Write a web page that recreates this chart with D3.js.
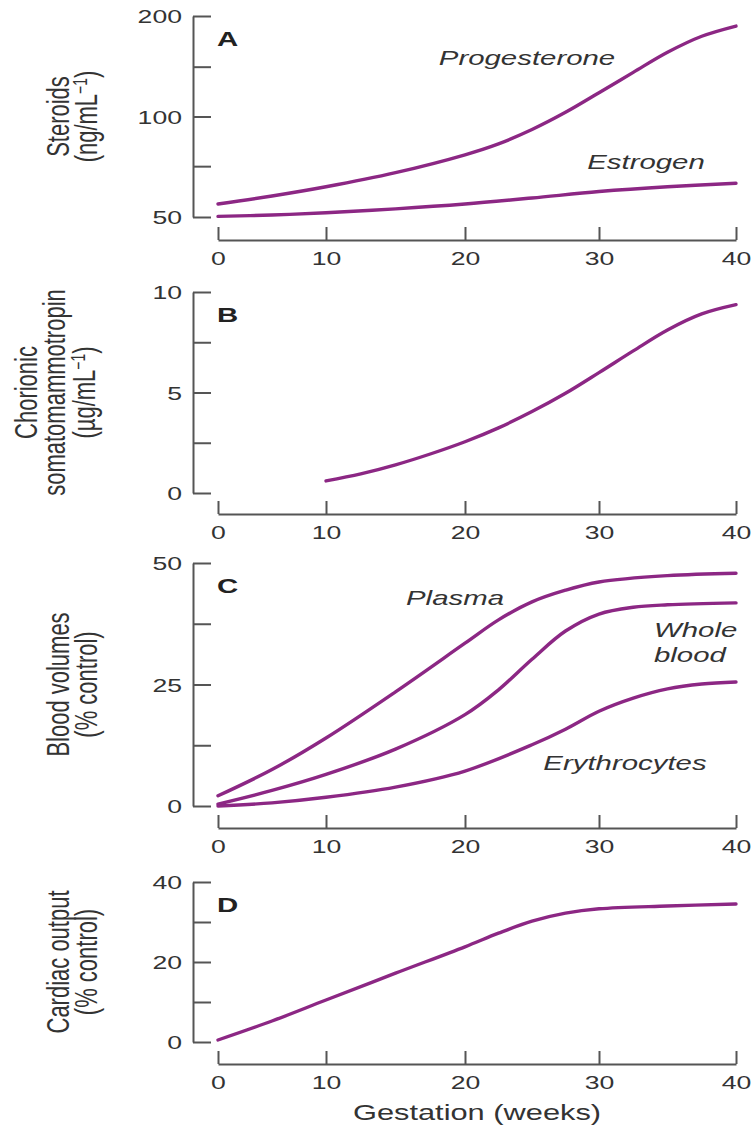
<!DOCTYPE html>
<html lang="en">
<head>
<meta charset="utf-8">
<title>Maternal changes during gestation</title>
<script src="https://cdn.jsdelivr.net/npm/d3@7"></script>
<style>
  body {margin: 0; background: #fff;}
  svg {display: block;}
  text {font-family: "Liberation Sans", Arial, sans-serif; fill: #333; stroke: none;}
  .axis path, .axis line {stroke: #555; stroke-width: 2; fill: none;}
  .axis text {font-size: 19px;}
  .ytitle {font-size: 22px;}
  .note {font-size: 21px; font-style: italic;}
  .letter {font-size: 21px; font-weight: bold; fill: #222;}
  .curve {fill: none; stroke: #8c2784; stroke-width: 3.4; stroke-linecap: round;}
</style>
</head>
<body>
<script>
// gestation axis (weeks)
var weekTicks = [0, 10, 20, 30, 40];

// A - steroids, ng/mL (log axis)
var steroidTicks = [50, 100, 200];
var steroidMinor = [71, 141];
var progWeeks = [0, 5, 10, 15, 20, 22.5, 25, 27.5, 30, 32.5, 35, 37.5, 40];
var progesterone = [54.7, 57.8, 61.6, 67.9, 76.8, 82.8, 91.4, 102.9, 117.8, 135.6, 155.7, 173.9, 186.6];
var estWeeks = [0, 5, 10, 15, 20, 25, 30, 35, 40];
var estrogen = [50.2, 50.7, 51.5, 52.9, 54.7, 57.0, 59.6, 61.6, 63.1];

// B - chorionic somatomammotropin, ug/mL
var csTicks = [0, 5, 10];
var csMinor = [2.5, 7.5];
var csWeeks = [10, 12.5, 15, 17.5, 20, 22.5, 25, 27.5, 30, 32.5, 35, 37.5, 40];
var somatomammotropin = [0.6, 0.95, 1.4, 1.94, 2.55, 3.24, 4.05, 4.96, 5.99, 7.07, 8.11, 8.91, 9.37];

// C - blood volumes, % of control
var bvTicks = [0, 25, 50];
var bvMinor = [12.5, 37.5];
var plasmaWeeks = [0, 5, 10, 15, 20, 22.5, 25, 27.5, 30, 35, 40];
var plasma = [2.1, 7.5, 14.0, 23.5, 33.5, 38.3, 42.0, 44.4, 46.1, 47.4, 47.9];
var wholeWeeks = [0, 5, 10, 15, 20, 22.5, 25, 27.5, 30, 32.5, 35, 40];
var wholeBlood = [0.4, 3.2, 6.5, 11.7, 18.8, 23.9, 30.2, 36.0, 39.5, 40.9, 41.4, 41.8];
var eryWeeks = [0, 5, 10, 15, 20, 25, 27.5, 30, 32.5, 35, 37.5, 40];
var erythrocytes = [0, 0.65, 1.8, 3.9, 7.2, 12.6, 15.8, 19.5, 22.2, 24.1, 25.1, 25.5];

// D - cardiac output, % of control
var coTicks = [0, 20, 40];
var coMinor = [10, 30];
var coWeeks = [0, 5, 10, 15, 20, 22.5, 25, 27.5, 30, 35, 40];
var cardiacOutput = [0.5, 5.25, 10.5, 17.2, 23.8, 27.2, 30.2, 32.2, 33.3, 34, 34.5];

var W = 754, H = 1128;
var axisX = 193;      // y axis line
var sx = 1.4;         // the lettering in the figure is set wide

var svg = d3.select("body").append("svg")
  .attr("width", W)
  .attr("height", H);

// the week axis of the figure is not evenly spaced
var x = d3.scaleLinear().domain(weekTicks).range([218, 326, 465, 599, 736]);

var line = function(y) {
  return d3.line()
    .x(function(d) { return x(d[0]); })
    .y(function(d) { return y(d[1]); })
    .curve(d3.curveCatmullRom.alpha(0.5));
};

function wide(tx, ty) {
  return "translate(" + tx + "," + ty + ") scale(" + sx + ",1)";
}

function panel(y, ticks, minor, axisY, letter) {
  var g = svg.append("g");

  var yAxis = d3.axisLeft(y)
    .tickValues(ticks.concat(minor))
    .tickSizeInner(-18)
    .tickSizeOuter(0)
    .tickFormat(function(d) { return ticks.indexOf(d) >= 0 ? d : ""; });

  g.append("g")
    .attr("class", "axis")
    .attr("transform", "translate(" + axisX + ",0)")
    .call(yAxis)
    .call(function(a) {
      a.attr("font-size", null).attr("font-family", null);
      a.selectAll("text")
        .attr("x", null)
        .attr("dy", "0.36em")
        .attr("transform", wide(-11, 0));
    });

  var xAxis = d3.axisBottom(x)
    .tickValues(weekTicks)
    .tickSizeInner(-13)
    .tickSizeOuter(0);

  g.append("g")
    .attr("class", "axis")
    .attr("transform", "translate(0," + axisY + ")")
    .call(xAxis)
    .call(function(a) {
      a.attr("font-size", null).attr("font-family", null);
      a.selectAll("text")
        .attr("y", null)
        .attr("dy", null)
        .attr("transform", wide(0, 25));
    });

  g.append("text")
    .attr("class", "letter")
    .attr("transform", wide(217, y.range()[1] + 29.5))
    .text(letter);

  return g;
}

function curve(g, y, weeks, values) {
  g.append("path")
    .attr("class", "curve")
    .attr("d", line(y)(d3.zip(weeks, values)));
}

// rotated axis title, one entry per column: [x, parts]
function ytitle(y, cols) {
  var cy = (y.range()[0] + y.range()[1]) / 2;
  cols.forEach(function(c) {
    var t = svg.append("text")
      .attr("class", "ytitle")
      .attr("text-anchor", "middle")
      .attr("dy", "0.36em")
      .attr("transform", "translate(" + c[0] + "," + cy + ") scale(" + sx + ",1) rotate(-90)");
    c[1].forEach(function(p) {
      var s = t.append("tspan").text(p[0]);
      if (p[1]) s.attr("font-size", 14).attr("baseline-shift", "super");
    });
  });
}

function note(g, txt, tx, ty, anchor) {
  g.append("text")
    .attr("class", "note")
    .attr("text-anchor", anchor || "middle")
    .attr("transform", wide(tx, ty))
    .text(txt);
}

// A
var yA = d3.scaleLog().domain([50, 200]).range([217, 16]);
var gA = panel(yA, steroidTicks, steroidMinor, 240, "A");
curve(gA, yA, progWeeks, progesterone);
curve(gA, yA, estWeeks, estrogen);
note(gA, "Progesterone", 527, 65);
note(gA, "Estrogen", 646, 169);
ytitle(yA, [[58, [["Steroids"]]], [86, [["(ng/mL"], ["\u22121", true], [")"]]]]);

// B
var yB = d3.scaleLinear().domain([0, 10]).range([493, 292]);
var gB = panel(yB, csTicks, csMinor, 514, "B");
curve(gB, yB, csWeeks, somatomammotropin);
ytitle(yB, [[26, [["Chorionic"]]], [54, [["somatomammotropin"]]], [84, [["(\u00b5g/mL"], ["\u22121", true], [")"]]]]);

// C
var yC = d3.scaleLinear().domain([0, 50]).range([806, 563]);
var gC = panel(yC, bvTicks, bvMinor, 828, "C");
curve(gC, yC, plasmaWeeks, plasma);
curve(gC, yC, wholeWeeks, wholeBlood);
curve(gC, yC, eryWeeks, erythrocytes);
note(gC, "Plasma", 455, 605);
note(gC, "Whole", 654, 637, "start");
note(gC, "blood", 654, 662, "start");
note(gC, "Erythrocytes", 625, 770);
ytitle(yC, [[58, [["Blood volumes"]]], [86, [["(% control)"]]]]);

// D
var yD = d3.scaleLinear().domain([0, 40]).range([1042, 882]);
var gD = panel(yD, coTicks, coMinor, 1064, "D");
curve(gD, yD, coWeeks, cardiacOutput);
ytitle(yD, [[58, [["Cardiac output"]]], [86, [["(% control)"]]]]);

svg.append("text")
  .attr("class", "ytitle")
  .attr("text-anchor", "middle")
  .attr("transform", wide((x.range()[0] + x.range()[4]) / 2, 1120))
  .text("Gestation (weeks)");
</script>
</body>
</html>
